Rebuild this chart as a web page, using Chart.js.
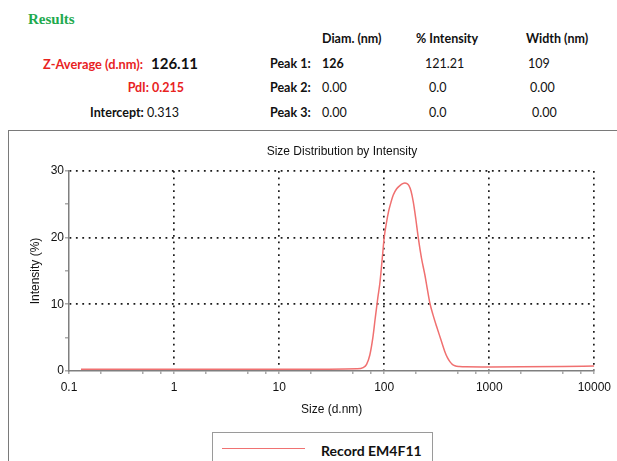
<!DOCTYPE html>
<html>
<head>
<meta charset="utf-8">
<script src="https://cdn.jsdelivr.net/npm/chart.js@4.4.1/dist/chart.umd.min.js"></script>
<style>
  html, body { margin:0; padding:0; background:#fff; width:617px; height:461px; overflow:hidden; }
  .t { position:absolute; white-space:nowrap; font-family: Lato, "Open Sans", sans-serif; font-size:12.5px; color:#111; line-height:1; }
  .b { font-weight:bold; }
  .red { color:#e8231f; }
  #frame { position:absolute; left:8px; top:130px; width:640px; height:400px; border-left:1.5px solid #7a7a7a; border-top:1.5px solid #7a7a7a; }
  #chartTitle { position:absolute; font-family:"Liberation Sans", Arial, sans-serif; font-size:12px; color:#111; top:144px; left:0; width:684px; text-align:center; }
  #legend { position:absolute; left:212px; top:432px; width:219px; height:60px; border:1px solid #9a9a9a; background:#fff; }
  #legLine { position:absolute; left:9px; top:15px; width:83px; height:0; border-top:1.2px solid #f07272; }
  #legText { position:absolute; left:108px; top:9px; font-family: Lato, sans-serif; font-weight:bold; font-size:14px; color:#111; }
  canvas { position:absolute; left:0; top:0; }
</style>
</head>
<body>
<div class="t b" style="left:28px;top:12px;font-family:'Liberation Serif','Times New Roman',serif;font-size:15px;color:#1faa4f;">Results</div>

<div class="t b" style="left:322px;top:33px;">Diam. (nm)</div>
<div class="t b" style="left:416px;top:33px;">% Intensity</div>
<div class="t b" style="left:526px;top:33px;">Width (nm)</div>

<div class="t b red" style="right:474px;top:58px;font-size:12.8px;">Z-Average (d.nm):</div>
<div class="t b" style="left:151px;top:56px;font-size:15px;">126.11</div>
<div class="t b" style="left:270px;top:58px;">Peak 1:</div>
<div class="t b" style="left:322px;top:58px;">126</div>
<div class="t" style="left:425px;top:58px;">121.21</div>
<div class="t" style="left:528px;top:58px;">109</div>

<div class="t b red" style="right:433px;top:82px;">PdI: 0.215</div>
<div class="t b" style="left:270px;top:82px;">Peak 2:</div>
<div class="t" style="left:322px;top:82px;">0.00</div>
<div class="t" style="left:429px;top:82px;">0.0</div>
<div class="t" style="left:530px;top:82px;">0.00</div>

<div class="t" style="right:438px;top:107px;"><b>Intercept:</b> 0.313</div>
<div class="t b" style="left:270px;top:107px;">Peak 3:</div>
<div class="t" style="left:322px;top:107px;">0.00</div>
<div class="t" style="left:429px;top:107px;">0.0</div>
<div class="t" style="left:532px;top:107px;">0.00</div>

<div id="frame"></div>
<canvas id="c" width="617" height="461"></canvas>
<div id="chartTitle"></div>
<div id="legend"><div id="legLine"></div><div id="legText"></div></div>

<script>
// ---- data ----
const chartTitle = "Size Distribution by Intensity";
const seriesName = "Record EM4F11";
const sizes = [0.13, 0.3, 1, 3, 10, 30, 55, 63, 68, 73, 78, 82, 87, 91, 96, 100, 105, 110, 116, 122, 131, 141, 150, 157, 165, 172, 180, 189, 200, 211, 226, 244, 258, 272, 293, 315, 345, 378, 400, 422, 445, 471, 520, 600, 1000, 2000, 5000, 10000];
const intensity = [0.28, 0.28, 0.28, 0.28, 0.28, 0.28, 0.32, 0.5, 1.0, 2.4, 5.0, 7.8, 11.0, 13.2, 17.0, 20.0, 22.2, 23.9, 25.3, 26.4, 27.3, 27.8, 28.1, 28.2, 28.1, 27.8, 27.0, 25.4, 22.8, 20.0, 17.0, 14.4, 12.2, 10.2, 8.3, 6.7, 4.8, 2.9, 2.0, 1.4, 1.0, 0.8, 0.68, 0.62, 0.6, 0.62, 0.68, 0.75];
const xMajorTicks = [0.1, 1, 10, 100, 1000, 10000];
const xAllTicks = [0.1, 0.2, 0.5, 0.75, 1, 2, 5, 7.5, 10, 20, 50, 75, 100, 200, 500, 750, 1000, 2000, 5000, 7500, 10000];
const yAllTicks = [0, 5, 10, 15, 20, 25, 30];
const yMajorTicks = [10, 20, 30];
const xTitle = "Size (d.nm)";
const yTitle = "Intensity (%)";

document.getElementById('chartTitle').textContent = chartTitle;
document.getElementById('legText').textContent = seriesName;

const pts = sizes.map((s, i) => ({x: s, y: intensity[i]}));
const gridCol = '#1a1a1a';
const axisCol = '#7f7f7f';
const fontA = {family: "'Liberation Sans', Arial, sans-serif", size: 12};
const dots = [1.8, 4.6];

new Chart(document.getElementById('c'), {
  type: 'line',
  data: { datasets: [{ label: seriesName, data: pts, borderColor: '#f07070', borderWidth: 1.5, pointRadius: 0, cubicInterpolationMode: 'monotone', fill: false }] },
  options: {
    responsive: false, animation: false,
    layout: { padding: { left: 24, right: 18, top: 171, bottom: 40 } },
    plugins: { legend: { display: false }, title: { display: false }, tooltip: { enabled: false } },
    scales: {
      x: {
        type: 'logarithmic', min: 0.1, max: 10000,
        afterBuildTicks: (s) => { s.ticks = xAllTicks.map(v => ({value: v, major: false})); },
        afterFit: (s) => { s.height = 50; },
        ticks: { autoSkip: false, maxRotation: 0, padding: 6, color: '#111', font: fontA,
          callback: (v) => xMajorTicks.includes(v) ? String(v) : '' },
        grid: { drawTicks: true, tickLength: 3, tickColor: axisCol, tickWidth: 1,
          color: (ctx) => (ctx.tick && xMajorTicks.includes(ctx.tick.value) && ctx.tick.value !== 0.1) ? gridCol : 'rgba(0,0,0,0)',
          lineWidth: 1.7 },
        border: { display: true, color: axisCol, width: 1.5, dash: dots },
        title: { display: true, text: xTitle, color: '#111', font: fontA, padding: {top: 4, bottom: 4} }
      },
      y: {
        min: 0, max: 30,
        afterBuildTicks: (s) => { s.ticks = yAllTicks.map(v => ({value: v})); },
        afterFit: (s) => { s.width = 45; },
        ticks: { autoSkip: false, padding: 1, color: '#111', font: fontA,
          callback: (v) => (v % 10 === 0) ? String(v) : '' },
        grid: { drawTicks: true, tickLength: 4, tickColor: axisCol, tickWidth: 1,
          color: (ctx) => (ctx.tick && yMajorTicks.includes(ctx.tick.value)) ? gridCol : 'rgba(0,0,0,0)',
          lineWidth: 1.7 },
        border: { display: true, color: axisCol, width: 1.5, dash: dots },
        title: { display: true, text: yTitle, color: '#111', font: fontA, padding: {top: 4, bottom: 4} }
      }
    }
  }
});
</script>
</body>
</html>
